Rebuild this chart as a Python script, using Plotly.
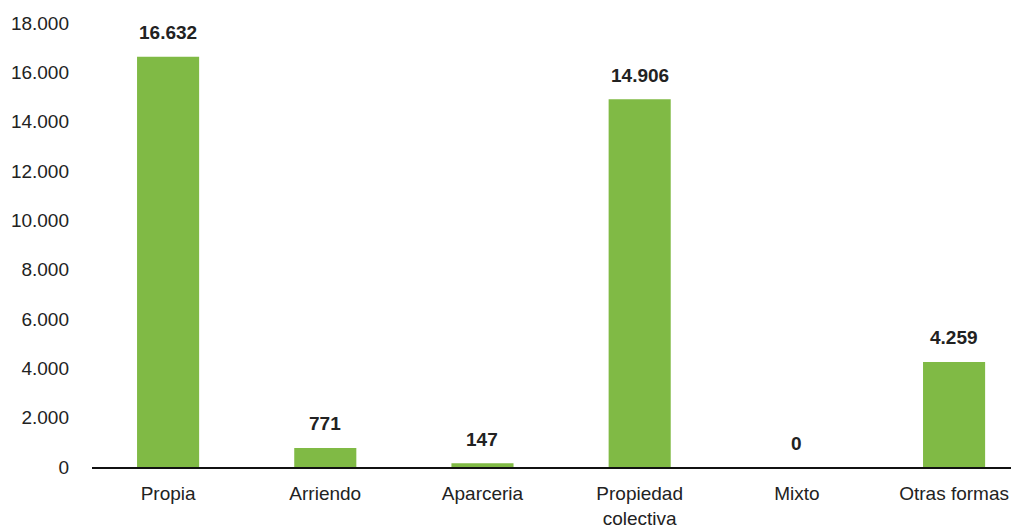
import plotly.graph_objects as go

categories = ["Propia", "Arriendo", "Aparceria", "Propiedad<br>colectiva", "Mixto", "Otras formas"]
values = [16632, 771, 147, 14906, 0, 4259]
y_ticks = [0, 2000, 4000, 6000, 8000, 10000, 12000, 14000, 16000, 18000]

def fmt(v):
    return f"{v:,}".replace(",", ".")

FONT = "Liberation Sans Narrow, Arial Narrow, Liberation Sans, Arial, sans-serif"

fig = go.Figure()
fig.add_trace(go.Bar(
    x=categories, y=values,
    marker=dict(color="#80BA45", line=dict(width=0)),
    width=0.395,
))

for c, v in zip(categories, values):
    fig.add_annotation(x=c, y=v, text=f"<b>{fmt(v)}</b>", showarrow=False,
                       yanchor="middle", yshift=24,
                       font=dict(family=FONT, size=19, color="#222222"))

fig.update_layout(
    width=1011, height=526,
    margin=dict(l=84, r=0, t=15, b=67),
    plot_bgcolor="white", paper_bgcolor="white",
    showlegend=False,
    font=dict(family=FONT, size=19, color="#222222"),
    xaxis=dict(
        range=[-0.484, 5.413], automargin=False,
        showline=True, linecolor="#111111", linewidth=2,
        showgrid=False, ticks="", ticklabelstandoff=8,
        tickfont=dict(family=FONT, size=19, color="#222222"),
    ),
    yaxis=dict(
        range=[0, 18000], automargin=False,
        tickvals=y_ticks, ticktext=[fmt(t) for t in y_ticks],
        showgrid=False, zeroline=False, showline=False,
        ticks="", ticklabelstandoff=22,
        tickfont=dict(family=FONT, size=19, color="#222222"),
    ),
)

fig.write_html("out.html")
